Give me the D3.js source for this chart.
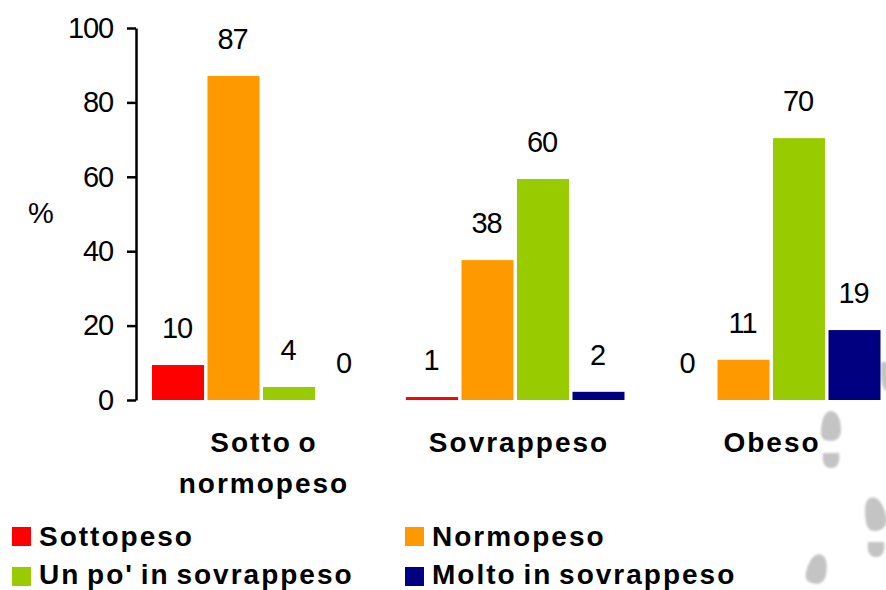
<!DOCTYPE html>
<html>
<head>
<meta charset="utf-8">
<script src="https://cdn.jsdelivr.net/npm/d3@7"></script>
<style>
html, body { margin: 0; padding: 0; background: #fff; }
svg { display: block; }
text { font-family: "Liberation Sans", Arial, sans-serif; fill: #000; }
</style>
</head>
<body>
<div id="chart"></div>
<script>
const groups = ["Sotto o normopeso", "Sovrappeso", "Obeso"]
const groupLines = [["Sotto o", "normopeso"], ["Sovrappeso"], ["Obeso"]]
const seriesNames = ["Sottopeso", "Normopeso", "Un po' in sovrappeso", "Molto in sovrappeso"]
const seriesColors = ["#ff0000", "#ff9900", "#99cc00", "#000080"]
const sottopeso = [9.4, 0.8, 0]
const normopeso = [87.1, 37.6, 10.8]
const sovrappeso = [3.5, 59.4, 70.4]
const moltoSovrappeso = [0, 2.2, 18.8]
const sottopesoLabels = ["10", "1", "0"]
const normopesoLabels = ["87", "38", "11"]
const sovrappesoLabels = ["4", "60", "70"]
const moltoLabels = ["0", "2", "19"]
const yTicks = [0, 20, 40, 60, 80, 100]

const width = 886
const height = 590

const allValues = [sottopeso, normopeso, sovrappeso, moltoSovrappeso]
const allLabels = [sottopesoLabels, normopesoLabels, sovrappesoLabels, moltoLabels]

const svg = d3.select("#chart")
    .append("svg")
    .attr("width", width)
    .attr("height", height)
    .attr("viewBox", `0 0 ${width} ${height}`)

// footprints in the background
const defs = svg.append("defs")
defs.append("filter").attr("id", "soft")
    .append("feGaussianBlur").attr("stdDeviation", 0.9)

const soleShape = "M0,-15 C7,-15 10,-5 10,4 C10,12 5,15 -1,15 C-7,15 -10,12 -10,6 C-10,-4 -7,-15 0,-15 Z"
const heelShape = "M-8,-7 L8,-7 C9,0 8,8 0,8 C-8,8 -9,0 -8,-7 Z"
const prints = svg.append("g").attr("filter", "url(#soft)").attr("fill", "#c4c4c4")
prints.append("path").attr("d", soleShape).attr("transform", "translate(831,426)")
prints.append("path").attr("d", heelShape).attr("transform", "translate(831,460)")
prints.append("path").attr("d", soleShape).attr("transform", "translate(875,514) rotate(-12) scale(1.05,1.12)")
prints.append("path").attr("d", heelShape).attr("transform", "translate(876,549)")
prints.append("path").attr("d", soleShape).attr("transform", "translate(817,569) rotate(12)")
prints.append("path").attr("d", heelShape).attr("transform", "translate(889,376) scale(1,2)")

const yScale = d3.scaleLinear().domain([0, 100]).range([400, 28])

const xGroup = d3.scaleOrdinal().domain(groups).range([152, 406, 662])
const xInner = d3.scaleBand()
    .domain(seriesNames)
    .range([0, 218.5])
    .paddingInner(0.063)
    .paddingOuter(0)

const yAxis = d3.axisLeft(yScale)
    .tickValues(yTicks)
    .tickSize(9)
    .tickSizeOuter(0)
    .tickPadding(14)

const axisG = svg.append("g")
    .attr("transform", "translate(136,0)")
    .call(yAxis)
axisG.select(".domain").attr("stroke", "#000").attr("stroke-width", 2.5)
axisG.selectAll(".tick line").attr("stroke", "#000").attr("stroke-width", 2.5)
axisG.selectAll(".tick text")
    .style("font-family", '"Liberation Sans", Arial, sans-serif')
    .style("font-size", "29px")
    .style("letter-spacing", "-1.1px")
    .attr("fill", "#000")

svg.append("text")
    .attr("x", 41)
    .attr("y", 223)
    .attr("text-anchor", "middle")
    .style("font-size", "29px")
    .text("%")

seriesNames.forEach((name, s) => {
    const g = svg.append("g")
    const rows = groups.map((group, i) => ({ group, value: allValues[s][i], label: allLabels[s][i] }))

    g.selectAll("rect")
        .data(rows.filter(d => d.value > 0))
        .join("rect")
        .attr("x", d => xGroup(d.group) + xInner(name))
        .attr("y", d => yScale(d.value))
        .attr("width", xInner.bandwidth())
        .attr("height", d => yScale(0) - yScale(d.value))
        .attr("fill", seriesColors[s])

    g.selectAll("text")
        .data(rows)
        .join("text")
        .attr("x", d => xGroup(d.group) + xInner(name) + xInner.bandwidth() / 2 - 1)
        .attr("y", d => yScale(d.value) - 27)
        .attr("text-anchor", "middle")
        .style("font-size", "29px")
        .style("letter-spacing", "-1.1px")
        .text(d => d.label)
})

// category labels
const groupCenters = [264, 519, 772]
groups.forEach((group, i) => {
    const t = svg.append("text")
        .attr("text-anchor", "middle")
        .style("font-size", "28px")
        .style("font-weight", "bold")
        .style("letter-spacing", "2px")
        .style("word-spacing", "-3px")
    groupLines[i].forEach((line, j) => {
        t.append("tspan")
            .attr("x", groupCenters[i])
            .attr("y", 452 + j * 41)
            .text(line)
    })
})

// legend
const legendX = d3.scaleOrdinal().domain([0, 1]).range([12, 405])
const legendY = d3.scaleOrdinal().domain([0, 1]).range([527, 567])
const legend = svg.append("g")
    .selectAll("g")
    .data(seriesNames)
    .join("g")
    .attr("transform", (d, i) => `translate(${legendX(i % 2)},${legendY(Math.floor(i / 2))})`)

legend.append("rect")
    .attr("width", 19)
    .attr("height", 19)
    .attr("fill", (d, i) => seriesColors[i])

legend.append("text")
    .attr("x", 27)
    .attr("y", (d, i) => i < 2 ? 19 : 17)
    .style("font-size", "28px")
    .style("font-weight", "bold")
    .style("letter-spacing", "2px")
    .style("word-spacing", "-3px")
    .text(d => d)
</script>
</body>
</html>
